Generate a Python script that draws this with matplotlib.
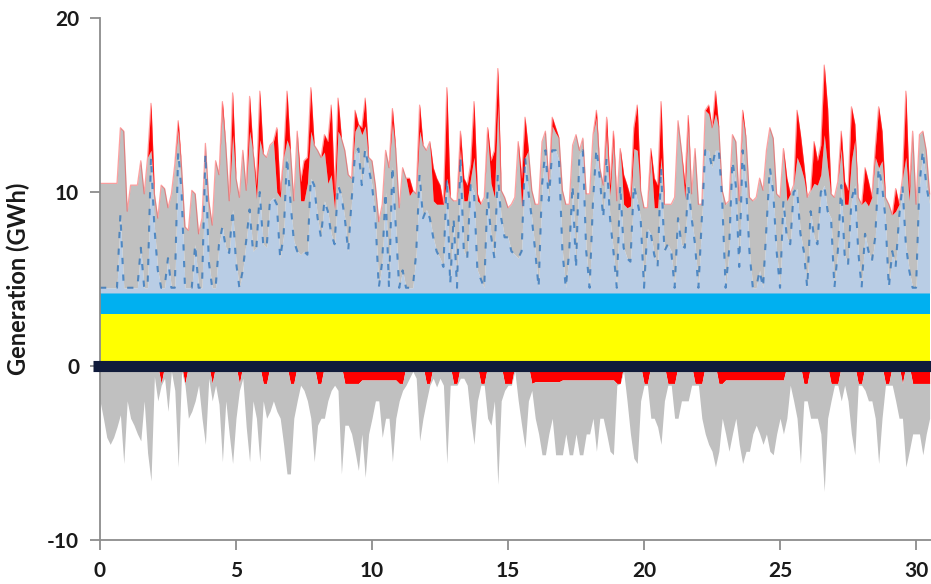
import numpy as np
import matplotlib
matplotlib.use("Agg")
import matplotlib.pyplot as plt

plt.rcParams['font.family'] = ['Lato', 'DejaVu Sans']
plt.rcParams['axes.unicode_minus'] = False

# ---- data (3-hourly samples, GWh) ----
STEP_DAYS = 0.125
NUCLEAR = 3.0          # yellow band
HYDRO = 1.2            # cyan band
BASE_STEEL = NUCLEAR + HYDRO

# top of the light-steel-blue layer
steel_top = [
    4.5,4.5,4.5,4.5,4.5,4.5,8.7,4.5,
    4.5,4.5,4.5,4.5,6.8,4.5,4.5,12.0,
    8.0,5.5,4.5,4.5,6.2,4.5,4.5,12.3,
    10.0,4.5,4.5,4.5,7.0,4.5,4.5,12.2,
    6.0,4.5,4.5,7.0,8.0,6.8,6.5,9.0,
    6.0,4.5,5.5,7.2,9.0,6.6,6.8,10.0,
    7.0,6.8,9.5,9.7,9.3,6.2,7.5,12.0,
    9.5,7.2,6.6,6.4,6.6,6.4,10.8,10.4,
    8.5,7.4,9.5,8.9,7.6,7.0,10.4,9.8,
    8.5,6.6,9.5,12.2,12.5,10.4,12.5,11.4,
    10.4,8.5,4.5,6.0,10.0,4.5,11.5,8.0,
    4.5,5.5,4.5,4.5,4.5,6.5,11.0,8.5,
    9.0,8.5,7.4,6.6,6.2,5.7,10.8,4.7,
    8.5,4.5,12.0,6.6,6.2,10.4,10.0,5.5,
    5.0,4.5,10.0,7.5,6.2,11.0,8.5,7.4,
    7.4,6.6,6.4,6.2,6.6,12.0,10.0,8.5,
    6.6,4.5,10.4,12.4,9.5,12.4,12.4,11.8,
    6.6,4.5,6.6,10.4,5.6,12.2,12.4,6.6,
    4.5,9.5,12.5,10.8,8.5,12.0,8.5,6.6,
    4.5,10.4,6.8,6.2,6.0,10.4,9.5,8.5,
    4.5,7.9,7.6,6.4,5.7,11.4,6.6,7.0,
    6.6,4.5,8.5,7.0,6.8,10.4,8.5,7.0,
    4.5,8.5,12.4,12.4,11.4,12.4,12.4,9.5,
    4.5,6.6,11.8,10.4,5.7,12.4,10.4,6.6,
    4.5,4.5,5.5,4.5,8.0,11.4,10.0,6.6,
    4.5,9.5,7.4,7.0,10.0,10.2,7.6,6.6,
    4.5,8.9,7.4,7.0,10.0,10.4,8.9,8.5,
    4.5,6.6,10.4,6.4,5.8,9.5,10.4,6.6,
    4.5,7.6,6.6,6.0,7.4,11.4,10.4,8.5,
    4.5,6.6,5.7,8.5,10.4,7.0,5.5,4.5,
    4.5,10.4,12.4,10.4,9.3,
]

# top of the grey layer
grey_top = [
    10.3,10.3,10.3,10.3,10.3,10.3,13.5,13.3,
    8.7,10.2,10.2,10.2,11.6,9.7,11.8,12.4,
    9.7,8.3,10.2,10.0,8.9,9.7,11.4,13.6,
    11.2,7.8,7.6,9.9,9.7,7.4,8.3,12.6,
    9.3,7.9,11.6,10.8,14.8,12.5,9.3,13.3,
    10.6,9.5,12.2,9.9,13.5,12.2,9.6,13.0,
    12.0,11.8,12.5,12.7,10.0,9.7,11.8,13.0,
    12.2,9.3,13.3,9.5,9.5,10.5,13.5,12.5,
    12.2,11.8,12.3,10.5,11.0,9.0,13.5,12.9,
    12.2,10.8,10.6,13.5,13.7,13.3,13.8,11.8,
    11.6,10.2,8.1,9.1,12.2,11.2,14.0,12.2,
    8.9,11.2,10.6,9.8,9.9,9.7,13.5,12.5,
    12.2,12.7,9.5,9.3,9.3,9.1,10.8,9.5,
    9.3,9.3,12.5,9.5,9.5,10.8,12.0,9.5,
    9.1,9.5,13.3,10.5,9.7,15.0,9.9,9.5,
    8.9,9.1,9.5,12.7,9.1,12.0,12.2,9.9,
    9.1,9.1,12.7,13.3,10.4,13.8,13.4,12.9,
    9.9,9.1,9.1,12.5,13.1,12.2,12.9,9.7,
    9.7,13.1,14.3,11.2,10.2,13.5,9.8,13.0,
    9.3,12.3,9.3,9.1,9.2,12.5,12.4,9.9,
    8.9,8.9,12.0,9.1,9.1,12.0,9.1,9.1,
    9.1,9.5,13.9,12.2,9.6,14.0,9.7,12.3,
    9.1,9.1,14.5,14.5,13.5,14.5,13.5,9.9,
    9.1,9.3,13.1,12.7,9.3,14.3,12.9,9.5,
    9.3,9.5,10.6,9.9,12.2,13.5,12.9,9.7,
    9.5,12.3,9.5,9.7,10.2,12.0,11.5,10.8,
    9.5,9.9,10.5,10.4,11.0,13.3,11.4,9.7,
    9.5,10.4,12.5,9.3,9.3,11.8,13.0,9.5,
    9.1,9.5,9.2,9.5,12.0,11.4,11.8,9.5,
    9.1,8.5,8.9,9.1,10.6,12.0,9.5,13.3,
    9.1,13.1,13.3,12.2,9.7,
]

# top of the red layer (total generation)
red_top = [
    10.5,10.5,10.5,10.5,10.5,10.5,13.7,13.5,
    8.9,10.4,10.4,10.4,11.8,9.9,12.0,15.1,
    9.9,8.5,10.4,10.2,9.1,9.9,11.6,14.1,
    11.4,8.0,7.8,10.1,9.9,7.6,8.5,12.8,
    9.5,8.1,11.8,11.0,15.2,12.7,9.5,15.7,
    10.8,9.7,12.4,10.1,15.5,12.4,10.4,15.8,
    12.2,12.0,12.7,12.9,13.7,10.0,12.0,15.8,
    12.4,9.5,13.5,10.6,11.8,12.0,16.0,12.7,
    12.4,12.0,13.3,12.9,15.0,9.9,15.4,13.1,
    12.4,11.0,10.8,14.7,13.9,13.7,15.4,12.0,
    11.8,10.4,8.3,9.3,12.4,11.4,14.8,12.4,
    9.1,11.4,10.8,10.8,10.1,9.9,15.0,12.7,
    12.4,12.9,11.4,10.8,10.4,9.3,16.0,9.7,
    9.5,9.5,13.5,10.8,10.4,11.6,15.2,9.9,
    9.3,9.7,13.7,11.8,12.4,17.1,10.1,9.7,
    9.1,9.3,9.7,12.9,10.8,14.3,12.4,10.1,
    9.3,9.3,12.9,13.5,10.6,14.3,13.7,13.1,
    10.1,9.3,9.3,12.7,13.3,12.4,13.1,9.9,
    9.9,13.3,14.7,11.4,10.4,14.3,10.4,13.5,
    9.5,12.5,11.0,10.4,9.7,13.7,15.0,10.1,
    9.1,9.1,12.5,10.8,10.4,15.2,9.3,9.3,
    9.3,9.7,14.1,12.4,10.4,14.4,9.9,12.5,
    9.3,9.3,14.7,15.0,13.7,15.8,13.7,10.1,
    9.3,9.5,13.3,12.9,9.5,14.7,13.1,9.7,
    9.5,9.7,10.8,10.1,12.4,13.7,13.1,9.9,
    9.7,12.5,10.8,9.9,10.4,14.7,13.3,11.6,
    9.7,10.1,12.9,11.8,12.7,17.3,14.8,9.9,
    9.7,10.6,13.5,10.6,10.1,14.9,13.9,9.7,
    9.3,11.4,10.6,9.7,12.5,14.9,13.5,9.7,
    9.3,8.7,10.2,9.3,10.8,15.8,10.1,13.5,
    9.3,13.3,13.5,12.4,9.9,
]

# negative side: red (nearest zero) and grey bottom
neg_red = [
    0,0,0,0,0,0,0,0,
    0,0,0,0,0,0,0,0,
    0,0,-1,0,0,0,0,0,
    0,-1,0,0,0,0,0,0,
    0,-1,0,0,0,0,0,0,
    0,-1,0,0,0,0,0,0,
    -1,-1,0,0,0,0,0,0,
    -1,-1,0,0,0,0,0,0,
    -1,-1,0,0,0,0,0,0,
    -1,-1,-1,-1,-1,-0.8,-0.8,-0.8,
    -0.8,-0.8,-0.8,-0.8,-0.8,-0.8,-0.8,-0.8,
    -1,-1,0,0,0,0,0,0,
    -1,-1,0,0,0,0,0,0,
    -1,-1,0,0,0,0,0,0,
    -1,-1,0,0,0,0,0,-1,
    -1,-1,0,0,0,0,0,-1,
    -0.9,-0.9,-0.9,-0.9,-0.9,-0.9,-0.9,-0.9,
    -0.8,-0.8,-0.8,-0.8,-0.8,-0.8,-0.8,-0.8,
    -0.8,-0.8,-0.8,-0.8,-0.8,-0.8,-0.8,-0.8,
    -1,-1,0,0,0,0,0,0,
    -1,-1,0,0,0,0,0,-1,
    -1,-1,0,0,0,0,0,-1,
    -1,-1,0,0,0,0,-1,-1,
    -0.8,-0.8,-0.8,-0.8,-0.8,-0.8,-0.8,-0.8,
    -0.8,-0.8,-0.8,-0.8,-0.8,-0.8,-0.8,-0.8,
    -0.8,-0.8,0,0,0,0,0,-1,
    -1,0,0,0,0,0,0,-1,
    -1,-1,0,0,0,0,0,-1,
    -1,0,0,0,0,0,0,-1,
    -1,0,0,0,-1,0,0,-1,
    -1,-1,-1,-1,-1,
]

neg_grey = [
    -2.0,-3.0,-4.1,-4.5,-4.1,-3.5,-2.8,-5.6,
    -2.0,-3.0,-3.4,-3.9,-4.3,-2.0,-5.0,-6.6,
    -0.6,-2.0,-1.1,-0.7,-2.6,-0.3,-1.4,-5.8,
    -0.3,-1.1,-3.0,-2.6,-2.0,-1.1,-3.0,-4.5,
    -0.7,-2.0,-1.1,-2.2,-5.5,-2.0,-3.9,-5.6,
    -3.0,-1.4,-0.7,-3.5,-5.5,-2.0,-3.0,-5.5,
    -2.0,-3.0,-2.6,-2.0,-2.6,-3.0,-4.5,-6.2,
    -6.2,-3.0,-2.0,-1.1,-1.4,-2.0,-3.0,-5.5,
    -3.4,-3.0,-3.0,-2.0,-1.4,-1.1,-1.4,-6.2,
    -3.4,-3.4,-3.9,-4.9,-6.0,-3.9,-6.4,-3.9,
    -3.0,-2.0,-2.0,-4.1,-3.0,-3.0,-5.5,-3.0,
    -2.0,-1.4,-1.1,-0.7,-0.3,-0.7,-4.3,-3.0,
    -2.0,-1.1,-0.7,-1.2,-0.7,-1.1,-5.6,-1.1,
    -1.1,-1.1,-0.7,-0.7,-1.1,-3.0,-4.5,-2.0,
    -1.1,-1.1,-3.0,-3.4,-2.0,-6.8,-2.0,-1.4,
    -1.1,-1.1,-0.3,-2.0,-3.4,-4.7,-2.0,-1.4,
    -3.0,-3.9,-5.1,-5.1,-3.9,-3.0,-5.1,-5.1,
    -5.1,-3.9,-5.1,-5.1,-3.9,-5.1,-5.1,-3.9,
    -3.9,-3.0,-4.9,-3.0,-3.0,-3.9,-4.9,-5.1,
    -1.1,-0.7,-0.3,-2.0,-3.9,-5.3,-5.6,-2.0,
    -1.1,-1.1,-3.0,-3.0,-3.5,-4.5,-2.0,-1.1,
    -1.1,-3.0,-3.0,-2.0,-2.0,-2.0,-1.1,-1.1,
    -1.1,-3.0,-3.9,-4.5,-4.9,-5.8,-4.9,-3.0,
    -3.9,-4.9,-3.9,-3.0,-4.5,-5.6,-4.9,-4.9,
    -3.9,-3.4,-3.9,-4.5,-3.9,-4.9,-5.1,-3.9,
    -3.0,-3.9,-3.0,-1.1,-2.0,-3.0,-5.6,-2.0,
    -2.0,-3.0,-3.0,-3.0,-3.9,-7.2,-3.0,-2.0,
    -1.1,-1.1,-2.0,-1.1,-2.0,-3.9,-5.1,-1.1,
    -1.1,-1.4,-2.0,-2.0,-3.0,-5.6,-3.0,-1.1,
    -1.1,-1.1,-2.0,-3.0,-3.0,-5.8,-4.9,-3.9,
    -3.9,-3.9,-5.1,-3.9,-3.0,
]

y_ticks = [-10, 0, 10, 20]
x_ticks = [0, 5, 10, 15, 20, 25, 30]
y_label = "Generation (GWh)"

# ---- build arrays ----
n = len(red_top)
t = np.arange(n) * STEP_DAYS
steel = np.maximum(np.array(steel_top), BASE_STEEL)
grey = np.maximum(np.array(grey_top), steel)
red = np.maximum(np.array(red_top), grey)
# very thin red slivers are shown only by the outline
grey_fill = np.where(red - grey <= 0.25, red, grey)
nred = np.array(neg_red, dtype=float)
ngrey = np.minimum(np.array(neg_grey), nred)

zeros = np.zeros(n)
nuc = zeros + NUCLEAR
hyd = nuc + HYDRO

fig = plt.figure(figsize=(9.31, 5.84), dpi=100)
ax = fig.add_axes([0.1074, 0.0753, 0.8926, 0.8937])

ax.fill_between(t, zeros, nuc, color='#FFFF00', lw=0)
ax.fill_between(t, nuc, hyd, color='#00B0F0', lw=0)
ax.fill_between(t, hyd, steel, color='#B9CDE5', lw=0)
ax.fill_between(t, steel, grey_fill, color='#C0C0C0', lw=0)
ax.fill_between(t, grey_fill, red, color='#FF0000', lw=0)
ax.plot(t, red, color='#FF3030', lw=0.9, alpha=0.45)
ax.plot(t, steel, color='#1F6BB8', lw=1.5, ls=(0, (3, 5)), alpha=0.7)

ax.fill_between(t, zeros, nred, color='#FF0000', lw=0)
ax.fill_between(t, nred, ngrey, color='#C0C0C0', lw=0)

ax.plot([-0.26, 30.55], [0, 0], color='#101B3B', lw=8, solid_capstyle='butt',
        clip_on=False, zorder=5)

ax.set_xlim(0, 30.55)
ax.set_ylim(-10, 20)
ax.set_xticks(x_ticks)
ax.set_yticks(y_ticks)
for s in ['top', 'right']:
    ax.spines[s].set_visible(False)
for s in ['left', 'bottom']:
    ax.spines[s].set_color('#8C8C8C')
    ax.spines[s].set_linewidth(1.3)
ax.tick_params(axis='both', colors='#8C8C8C', length=7, width=1.3, direction='out',
               labelcolor='#1A1A1A', labelsize=15, pad=8)
for lab in ax.get_xticklabels() + ax.get_yticklabels():
    lab.set_fontweight('bold')
ax.set_ylabel(y_label, fontsize=17, fontweight='bold', color='#1A1A1A', labelpad=12)

fig.savefig('out.png', dpi=100)
